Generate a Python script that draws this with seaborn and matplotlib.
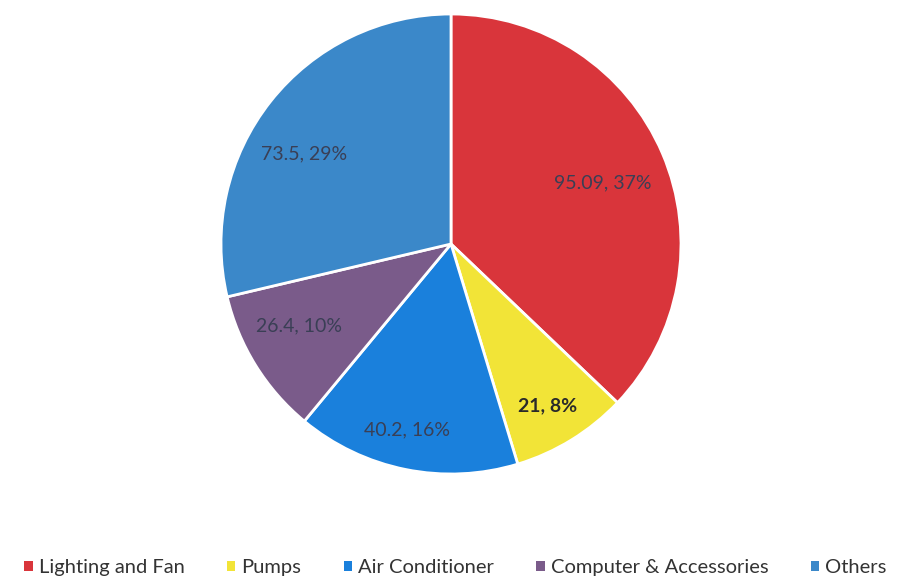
import numpy as np
import matplotlib
matplotlib.use("Agg")
import matplotlib.pyplot as plt
import seaborn as sns
from matplotlib.patches import Patch

# ── data ──────────────────────────────────────────────────────────────
categories = ["Lighting and Fan", "Pumps", "Air Conditioner",
              "Computer & Accessories", "Others"]
values     = [95.09, 21, 40.2, 26.4, 73.5]
pct_labels = ["37%", "8%", "16%", "10%", "29%"]
colors     = ["#D9353B", "#F2E437", "#1A80DC", "#7A5B8A", "#3B88C9"]

# label placement: distance from centre (fraction of radius) and angular
# nudge from the wedge midline (degrees)
label_r     = [0.71, 0.82, 0.83, 0.75, 0.75]
label_nudge = [-1.3, -0.7, -2.0, -3.4, 6.8]

sns.set_theme(style="white")
plt.rcParams["font.family"] = ["Lato", "DejaVu Sans"]

fig = plt.figure(figsize=(9.02, 5.78), dpi=100)
ax = fig.add_axes([221 / 902, (578 - 474) / 578, 460 / 902, 460 / 578])

wedges, _ = ax.pie(values, colors=colors, startangle=90, counterclock=False,
                   wedgeprops=dict(edgecolor="white", linewidth=2))
ax.set_xlim(-1, 1)
ax.set_ylim(-1, 1)
ax.set_aspect("equal")

for w, v, p, r, nd, c in zip(wedges, values, pct_labels, label_r,
                             label_nudge, categories):
    ang = np.deg2rad((w.theta1 + w.theta2) / 2 + nd)
    txt = f"{v:g}, {p}"
    bold = c == "Pumps"
    ax.text(r * np.cos(ang), r * np.sin(ang), txt, ha="center", va="center",
            fontsize=14, color="#2a2a2a" if bold else "#3a3f55",
            fontweight="bold" if bold else "normal")

handles = [Patch(facecolor=col, edgecolor="none") for col in colors]
fig.legend(handles, categories, loc="lower center", ncol=5, frameon=False,
           bbox_to_anchor=(0.505, -0.028), fontsize=14.5, handlelength=0.42,
           handleheight=0.42, handletextpad=0.3, columnspacing=2.1,
           labelcolor="#333333")

fig.savefig("out.png", dpi=100)
